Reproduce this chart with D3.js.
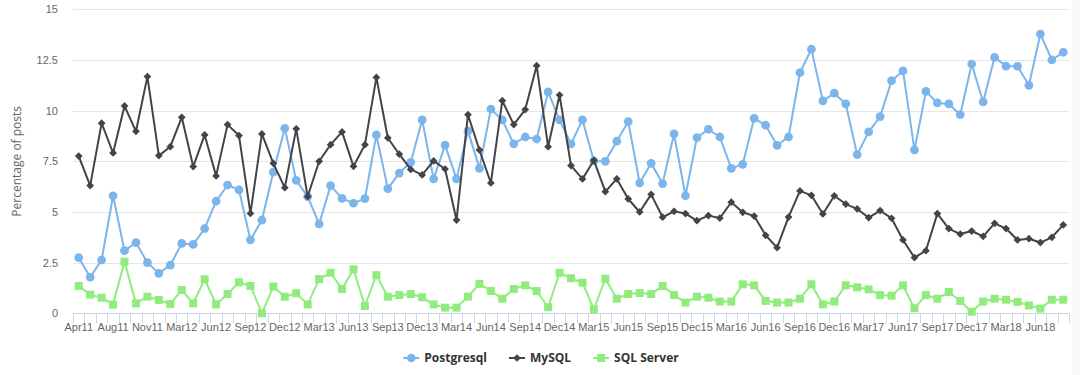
<!DOCTYPE html>
<html lang="en">
<head>
  <meta charset="UTF-8">
  <title>Percentage of posts – Postgresql / MySQL / SQL Server</title>
  <script src="https://d3js.org/d3.v7.min.js"></script>
  <style>
    body {
      margin: 0;
      background: #fff;
    }
    svg {
      display: block;
      font-family: "Open Sans", "Lucida Grande", Arial, sans-serif;
    }
    .tick text {
      fill: #666;
      font-size: 11px;
    }
  </style>
</head>
<body>
<svg width="1080" height="375"></svg>

<script>
  // month categories (a couple of months are missing in the source data)
  const months = [
    "Apr11","May11","Jun11","Aug11","Sep11","Oct11","Nov11","Dec11","Jan12",
    "Mar12","Apr12","May12","Jun12","Jul12","Aug12","Sep12","Oct12","Nov12","Dec12",
    "Jan13","Feb13","Mar13","Apr13","May13","Jun13","Jul13","Aug13","Sep13","Oct13","Nov13","Dec13",
    "Jan14","Feb14","Mar14","Apr14","May14","Jun14","Jul14","Aug14","Sep14","Oct14","Nov14","Dec14",
    "Jan15","Feb15","Mar15","Apr15","May15","Jun15","Jul15","Aug15","Sep15","Oct15","Nov15","Dec15",
    "Jan16","Feb16","Mar16","Apr16","May16","Jun16","Jul16","Aug16","Sep16","Oct16","Nov16","Dec16",
    "Jan17","Feb17","Mar17","Apr17","May17","Jun17","Jul17","Aug17","Sep17","Oct17","Nov17","Dec17",
    "Jan18","Feb18","Mar18","Apr18","May18","Jun18","Jul18","Aug18"
  ];

  const postgresql = [
    2.75, 1.78, 2.63, 5.8, 3.09, 3.49, 2.5, 1.97, 2.38, 3.45, 3.4, 4.18, 5.53, 6.33, 6.09,
    3.62, 4.6, 6.97, 9.13, 6.56, 5.76, 4.41, 6.3, 5.67, 5.43, 5.66, 8.8, 6.15, 6.92, 7.45,
    9.54, 6.63, 8.3, 6.63, 9.0, 7.15, 10.08, 9.54, 8.36, 8.7, 8.6, 10.92, 9.54, 8.36, 9.54,
    7.52, 7.5, 8.49, 9.46, 6.43, 7.4, 6.4, 8.85, 5.8, 8.67, 9.08, 8.7, 7.15, 7.35, 9.62,
    9.28, 8.29, 8.7, 11.88, 13.03, 10.48, 10.86, 10.33, 7.83, 8.95, 9.7, 11.48, 11.96, 8.06,
    10.95, 10.38, 10.33, 9.8, 12.3, 10.43, 12.63, 12.2, 12.19, 11.25, 13.78, 12.5, 12.88
  ];

  const mysql = [
    7.76, 6.3, 9.38, 7.91, 10.23, 8.98, 11.68, 7.78, 8.22, 9.67, 7.24, 8.8, 6.78, 9.31, 8.77,
    4.93, 8.85, 7.4, 6.2, 9.1, 5.76, 7.5, 8.32, 8.95, 7.25, 8.32, 11.64, 8.65, 7.85, 7.1,
    6.83, 7.52, 7.12, 4.6, 9.8, 8.06, 6.43, 10.49, 9.31, 10.05, 12.22, 8.22, 10.77, 7.29, 6.63,
    7.55, 6.0, 6.63, 5.64, 5.0, 5.87, 4.74, 5.03, 4.92, 4.57, 4.82, 4.7, 5.48, 4.98, 4.8,
    3.85, 3.24, 4.75, 6.04, 5.82, 4.9, 5.8, 5.39, 5.15, 4.72, 5.07, 4.69, 3.62, 2.75,
    3.09, 4.92, 4.18, 3.91, 4.06, 3.8, 4.44, 4.18, 3.62, 3.68, 3.49, 3.75, 4.36
  ];

  const sqlServer = [
    1.35, 0.92, 0.77, 0.43, 2.55, 0.49, 0.82, 0.66, 0.46, 1.15, 0.49, 1.68, 0.44, 0.95, 1.53,
    1.35, 0.0, 1.32, 0.82, 0.99, 0.44, 1.69, 2.0, 1.2, 2.17, 0.36, 1.88, 0.82, 0.9, 0.95,
    0.79, 0.44, 0.28, 0.28, 0.82, 1.45, 1.1, 0.72, 1.2, 1.38, 1.1, 0.3, 2.0, 1.73, 1.51,
    0.2, 1.71, 0.72, 0.95, 1.0, 0.95, 1.35, 0.9, 0.53, 0.82, 0.77, 0.58, 0.58, 1.43, 1.38,
    0.61, 0.53, 0.53, 0.72, 1.43, 0.44, 0.58, 1.38, 1.28, 1.18, 0.9, 0.87, 1.38, 0.25,
    0.9, 0.72, 1.05, 0.61, 0.08, 0.58, 0.72, 0.67, 0.56, 0.39, 0.23, 0.67, 0.67
  ];

  const yTicks = [0, 2.5, 5, 7.5, 10, 12.5, 15];

  // diamond = square turned 45deg, same box as the other markers
  const series = [
    { name: "Postgresql", values: postgresql, color: "#7cb5ec", symbol: d3.symbolCircle, size: 60, rot: 0 },
    { name: "MySQL", values: mysql, color: "#434348", symbol: d3.symbolSquare, size: 30, rot: 45 },
    { name: "SQL Server", values: sqlServer, color: "#90ed7d", symbol: d3.symbolSquare, size: 64, rot: 0 }
  ];

  const svg = d3.select("svg"),
        plot = { left: 73, right: 1069, top: 9.3, bottom: 313.3 };

  const x = d3.scaleBand().domain(months).range([plot.left, plot.right]);
  const y = d3.scaleLinear().domain([0, 15]).range([plot.bottom, plot.top]);
  const cx = m => x(m) + x.bandwidth() / 2;

  // faint strip at the right edge
  svg.append("rect")
    .attr("x", 1072).attr("y", 0).attr("width", 8).attr("height", 375)
    .attr("fill", "#f8f8f8");

  // grid
  svg.append("g")
    .selectAll("line")
    .data(yTicks)
    .join("line")
    .attr("x1", plot.left).attr("x2", plot.right)
    .attr("y1", d => Math.round(y(d)) + 0.5).attr("y2", d => Math.round(y(d)) + 0.5)
    .attr("stroke", "#e6e6e6");

  // y labels
  const yAxis = svg.append("g")
    .attr("transform", `translate(${plot.left},0)`)
    .call(d3.axisLeft(y).tickValues(yTicks).tickFormat(d => d).tickSize(0).tickPadding(15));
  yAxis.select(".domain").remove();
  yAxis.selectAll("text").attr("font-family", null).attr("font-size", null);

  svg.append("text")
    .attr("transform", `translate(21,${(plot.top + plot.bottom) / 2}) rotate(-90)`)
    .attr("text-anchor", "middle")
    .attr("fill", "#666")
    .style("font-size", "12px")
    .text("Percentage of posts");

  // x axis: ticks at band edges, labels every 3rd month
  const xAxis = svg.append("g")
    .attr("transform", `translate(0,${plot.bottom})`)
    .call(d3.axisBottom(x).tickValues(months.filter((m, i) => i % 3 === 0)).tickSize(0).tickPadding(10));
  xAxis.select(".domain").remove();
  xAxis.selectAll("text").attr("font-family", null).attr("font-size", null);

  const edges = months.map(m => x(m)).concat([plot.right]);
  svg.append("g")
    .selectAll("line")
    .data(edges)
    .join("line")
    .attr("x1", d => Math.round(d) + 0.5).attr("x2", d => Math.round(d) + 0.5)
    .attr("y1", plot.bottom).attr("y2", plot.bottom + 10)
    .attr("stroke", "#ccd6eb");

  svg.append("line")
    .attr("x1", plot.left).attr("x2", plot.right)
    .attr("y1", Math.round(plot.bottom) + 0.5).attr("y2", Math.round(plot.bottom) + 0.5)
    .attr("stroke", "#ccd6eb");

  // lines + markers
  const line = d3.line()
    .x((d, i) => cx(months[i]))
    .y(d => y(d));

  series.forEach(s => {
    const g = svg.append("g");
    g.append("path")
      .datum(s.values)
      .attr("fill", "none")
      .attr("stroke", s.color)
      .attr("stroke-width", 2)
      .attr("stroke-linejoin", "round")
      .attr("d", line);

    g.selectAll("path.marker")
      .data(s.values)
      .join("path")
      .attr("class", "marker")
      .attr("transform", (d, i) => `translate(${cx(months[i])},${y(d)}) rotate(${s.rot})`)
      .attr("d", d3.symbol().type(s.symbol).size(s.size))
      .attr("fill", s.color);
  });

  // legend
  const legend = svg.append("g");
  let lx = 0;
  series.forEach(s => {
    const item = legend.append("g").attr("transform", `translate(${lx},0)`);
    item.append("line")
      .attr("x1", 0).attr("x2", 16)
      .attr("stroke", s.color).attr("stroke-width", 2);
    item.append("path")
      .attr("transform", `translate(8,0) rotate(${s.rot})`)
      .attr("d", d3.symbol().type(s.symbol).size(s.size))
      .attr("fill", s.color);
    const t = item.append("text")
      .attr("x", 21)
      .attr("dy", "0.35em")
      .attr("fill", "#333")
      .style("font-size", "12px")
      .style("font-weight", "bold")
      .text(s.name);
    lx += 21 + t.node().getComputedTextLength() + 22;
  });
  lx -= 22;
  legend.attr("transform", `translate(${541 - lx / 2},358)`);
</script>
</body>
</html>
